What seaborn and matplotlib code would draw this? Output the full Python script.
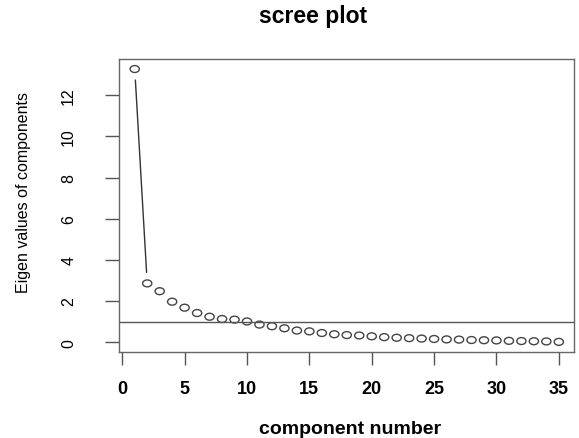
import matplotlib
matplotlib.use("Agg")
import matplotlib.pyplot as plt
import numpy as np
import pandas as pd
import seaborn as sns
from matplotlib.path import Path
from matplotlib.transforms import Affine2D

# scree values
components = list(range(1, 36))
eigen_values = [13.27, 2.86, 2.48, 1.97, 1.68, 1.42, 1.24, 1.13, 1.10, 1.01,
                0.86, 0.78, 0.68, 0.57, 0.53, 0.45, 0.39, 0.35, 0.33, 0.29,
                0.25, 0.22, 0.20, 0.18, 0.16, 0.14, 0.13, 0.11, 0.10, 0.09,
                0.07, 0.06, 0.05, 0.04, 0.02]
cutoff = 1
x_ticks = [0, 5, 10, 15, 20, 25, 30, 35]
y_ticks = [0, 2, 4, 6, 8, 10, 12]

df = pd.DataFrame({"comp": components, "ev": eigen_values})

sns.set_theme(style="ticks")
plt.rcParams["font.family"] = ["Liberation Sans", "DejaVu Sans"]
plt.rcParams["text.color"] = "black"

fig = plt.figure(figsize=(5.79, 4.39), dpi=100)
ax = fig.add_axes([0.206, 0.196, 0.785, 0.667])

# slightly squashed circle, the original looks stretched
ell = Path.unit_circle().transformed(Affine2D().scale(1.0, 0.75))
sns.scatterplot(data=df, x="comp", y="ev", marker=ell, s=44,
                facecolor="none", edgecolor="#444444", linewidth=1.0, ax=ax)

ax.set_xlim(-0.24, 36.2)
ax.set_ylim(-0.47, 13.75)
fig.canvas.draw()

# R type="b": segments only where points are far enough apart
gap = 11
pts = ax.transData.transform(np.column_stack([components, eigen_values]))
inv = ax.transData.inverted()
for p, q in zip(pts[:-1], pts[1:]):
    d = q - p
    L = np.hypot(*d)
    if L > 2 * gap:
        u = d / L
        a = inv.transform(p + u * gap)
        b = inv.transform(q - u * gap)
        ax.plot([a[0], b[0]], [a[1], b[1]], color="#333333", lw=1.0)

ax.axhline(cutoff, color="#555555", lw=1.0)

ax.set_xticks(x_ticks)
ax.set_yticks(y_ticks)
ax.set_xticklabels([str(t) for t in x_ticks], fontsize=13, fontweight="bold")
ax.set_yticklabels([str(t) for t in y_ticks], fontsize=11.5, rotation=90, va="center")
ax.tick_params(axis="x", length=9, width=1, color="#555555", pad=11, labelcolor="black")
ax.tick_params(axis="y", length=10, width=1, color="#555555", pad=21, labelcolor="black")
for s in ax.spines.values():
    s.set_color("#666666")
    s.set_linewidth(1.0)

ax.set_xlabel("")
ax.set_ylabel("")
fig.text(0.605, 0.021, "component number", ha="center", va="center",
         fontsize=14, fontweight="bold", color="black")
fig.text(0.041, 0.561, "Eigen values of components", ha="center", va="center",
         fontsize=11.5, rotation=90, color="black")
fig.text(0.54, 0.963, "scree plot", ha="center", va="center",
         fontsize=16.5, fontweight="bold", color="black")

plt.savefig("out.png", dpi=100)
